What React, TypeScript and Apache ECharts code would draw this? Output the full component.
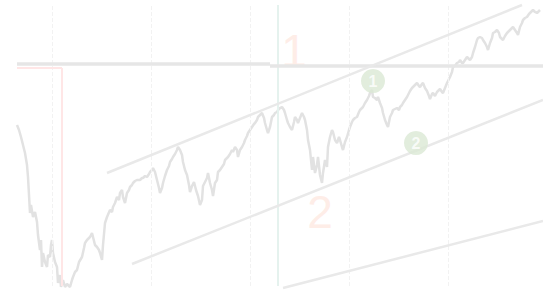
import React, { useEffect, useRef } from "react";
import * as echarts from "echarts";

// time index (trading-period index) and index level
const priceT = [17,19,21,23,25,27,28,29,30,31,33,35,37,38,40,41,42,43,45,47,48,50,51,52,53,55,57,58,60,61,63,65,67,70,72,73,75,77,79,82,84,85,87,90,92,93,95,97,99,100,102,103,105,107,110,112,113,115,117,119,120,122,123,125,127,129,130,132,133,135,137,140,142,143,145,147,149,150,152,153,155,157,159,160,162,163,165,167,169,170,172,173,175,177,178,180,182,183,185,187,189,190,192,194,196,198,200,202,203,205,207,208,210,212,213,215,217,218,220,222,224,225,227,228,230,232,233,235,237,238,240,242,244,245,247,248,250,252,254,255,257,258,260,262,264,265,267,268,270,272,274,275,277,278,280,282,284,285,287,288,290,292,294,295,297,298,300,302,304,305,307,308,310,311,312,313,315,317,318,320,322,323,325,327,328,330,332,333,335,337,339,340,342,343,345,347,349,350,352,353,355,357,359,360,362,363,365,367,369,370,372,373,375,377,378,380,382,383,385,387,388,390,392,393,395,397,399,400,402,403,405,407,409,410,412,413,415,417,419,420,422,423,425,427,429,430,432,433,435,437,439,440,442,443,445,447,449,450,452,453,455,457,459,460,462,463,465,467,469,470,472,473,475,477,478,480,482,483,485,487,488,490,492,493,495,497,499,500,502,503,505,507,509,510,512,513,515,517,518,520,522,523,525,527,529,530,532,533,535,537,539,540];
const priceV = [161,156,149,141,133,121,109,91,73,81,69,74,64,51,36,46,19,33,24,19,31,29,41,46,33,24,19,3,11,-1,6,-1,2,-1,6,9,14,16,24,29,38,43,46,49,53,49,41,39,36,33,26,41,63,69,76,74,79,83,89,86,93,96,89,83,93,96,99,101,103,105,106,106,108,108,110,109,112,114,116,118,114,106,98,93,98,103,110,116,120,124,127,129,132,136,139,136,131,124,116,111,101,94,100,104,96,90,81,86,100,104,108,113,103,96,90,103,106,114,116,119,122,126,128,129,132,136,134,139,136,129,136,139,143,146,150,153,156,159,162,163,166,169,171,173,168,163,156,153,159,169,171,173,174,176,178,179,176,173,166,163,159,156,164,169,166,163,168,173,169,166,156,146,136,126,116,129,113,121,129,111,103,113,126,119,139,149,156,154,146,143,149,146,139,136,144,149,156,159,164,166,168,169,174,176,178,179,183,186,190,193,196,189,188,186,189,183,178,173,166,161,159,169,173,176,177,178,176,179,181,183,186,189,193,195,198,199,201,203,200,199,202,203,198,195,190,187,192,193,190,194,196,197,194,193,198,203,207,209,214,219,220,223,224,226,223,223,226,229,227,226,229,233,239,246,248,249,248,246,243,239,236,243,248,253,254,256,253,249,247,246,250,253,255,256,258,259,256,253,251,259,263,266,268,269,272,273,275,276,274,273,275,276];

// vertical reference grid (time index)
const gridT = [52, 151, 250, 349, 448];

// channel / trend lines: [t0, v0, t1, v1]
const channelUpper = [107, 113, 522, 281];
const channelMiddle = [132, 22, 543, 186];
const channelLower = [283, -2, 543, 65];

// horizontal resistance level (two segments)
const resistanceLeft = [17, 222, 270, 222];
const resistanceRight = [270, 220, 543, 220];

// red marker (level + date)
const redLevel = 218;
const redStartT = 17;
const redT = 62;

// green vertical marker date
const greenT = 278;

// big phase labels
const phaseT = [294, 320];
const phaseV = [235, 74];
const phaseText = ["1", "2"];

// circle markers
const circleT = [373, 416];
const circleV = [205, 143];
const circleText = ["1", "2"];

const V_MIN = -6;
const V_MAX = 281;
const T_MAX = 543;

const seg = (a: number[], color: string, width: number, type: string = "solid") => [
  { coord: [a[0], a[1]], lineStyle: { color, width, type } },
  { coord: [a[2], a[3]] },
];

export default function App() {
  const ref = useRef<HTMLDivElement>(null);
  useEffect(() => {
    if (!ref.current) return;
    const chart = echarts.init(ref.current, undefined, { renderer: "svg" });
    const gridLines = gridT.map((t) => seg([t, 0, t, V_MAX], "#f2f2f2", 1, "dashed"));
    const option: any = {
      animation: false,
      grid: { left: 0, right: 0, top: 5, bottom: 0 },
      xAxis: { type: "value", min: 0, max: T_MAX, show: false, splitLine: { show: false } },
      yAxis: { type: "value", min: V_MIN, max: V_MAX, show: false, splitLine: { show: false } },
      series: [
        {
          name: "grid",
          type: "line",
          data: [],
          silent: true,
          z: 1,
          markLine: {
            silent: true,
            symbol: ["none", "none"],
            label: { show: false },
            data: [
              ...gridLines,
              seg([greenT, 0, greenT, V_MAX], "#e5f2ee", 2),
              seg([redStartT, redLevel, redT, redLevel], "#ffe6e6", 2),
              seg([redT, redLevel, redT, 0], "#ffe6e6", 2),
            ],
          },
        },
        {
          name: "trend",
          type: "line",
          data: [],
          silent: true,
          z: 2,
          markLine: {
            silent: true,
            symbol: ["none", "none"],
            label: { show: false },
            data: [
              seg(resistanceLeft, "#e6e6e6", 3.5),
              seg(resistanceRight, "#e6e6e6", 3.5),
              seg(channelUpper, "#e9e9e9", 2.5),
              seg(channelMiddle, "#e9e9e9", 2.5),
              seg(channelLower, "#e9e9e9", 2.5),
            ],
          },
        },
        {
          name: "price",
          type: "line",
          z: 3,
          symbol: "none",
          clip: false,
          lineStyle: { color: "#e2e2e2", width: 2.5 },
          data: priceT.map((t, i) => [t, priceV[i]]),
        },
        {
          name: "phase",
          type: "scatter",
          z: 4,
          symbolSize: 1,
          itemStyle: { color: "rgba(0,0,0,0)" },
          label: {
            show: true,
            position: "inside",
            formatter: (p: any) => phaseText[p.dataIndex],
            fontSize: 46,
            fontFamily: "Liberation Sans, Arial, sans-serif",
            color: "#fee8e1",
          },
          data: phaseT.map((t, i) => [t, phaseV[i]]),
        },
        {
          name: "markers",
          type: "scatter",
          z: 5,
          symbol: "circle",
          symbolSize: 24,
          itemStyle: { color: "#dbe9d5" },
          label: {
            show: true,
            position: "inside",
            formatter: (p: any) => circleText[p.dataIndex],
            fontSize: 16,
            fontWeight: "bold",
            fontFamily: "Liberation Sans, Arial, sans-serif",
            color: "#ffffff",
          },
          data: circleT.map((t, i) => [t, circleV[i]]),
        },
      ],
    };
    chart.setOption(option);
    return () => chart.dispose();
  }, []);
  return (
    <div
      ref={ref}
      style={{ position: "fixed", left: 0, top: 0, width: 543, height: 292, background: "#ffffff" }}
    />
  );
}
